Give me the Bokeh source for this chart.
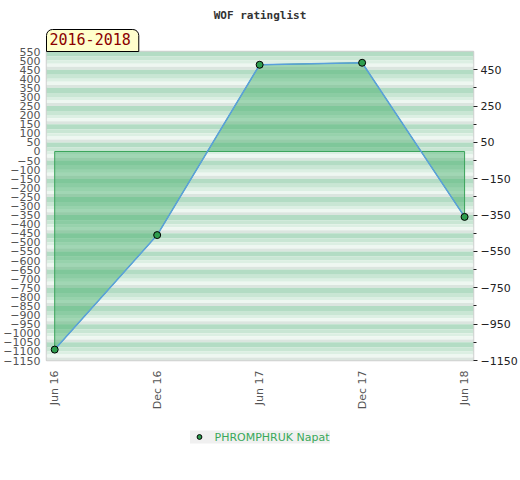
from math import pi
from bokeh.plotting import figure
from bokeh.layouts import column
from bokeh.models import (Range1d, LinearAxis, FixedTicker, Title, Legend,
                          LegendItem, ColumnDataSource)
from bokeh.embed import file_html
from bokeh.resources import INLINE

# ---- data ----
dates = ["Jun 16", "Dec 16", "Jun 17", "Dec 17", "Jun 18"]
ratings = [-1090, -460, 477, 488, -360]
player = "PHROMPHRUK Napat"
title_text = "WOF ratinglist"
period_text = "2016-2018"

left_ticks = list(range(-1150, 551, 50))
right_major = [450, 250, 50, -150, -350, -550, -750, -950, -1150]
right_minor = [350, 150, -50, -250, -450, -650, -850, -1050]
y_min, y_max = -1150, 550
stripe_period = 100
stripe_fracs = [0.0, 0.28, 0.50, 0.67, 0.84, 1.0]
stripe_colors = ["#b3dcc4", "#c9e6d4", "#dcefe3", "#eef7f1", "#dbe5df"]

x_idx = list(range(len(dates)))
x0, x1 = -0.08, 4.087

p = figure(width=520, height=420, x_range=Range1d(x0, x1), y_range=Range1d(y_min, y_max),
           output_backend="svg", toolbar_location=None, title=None,
           min_border_left=44, min_border_right=45, min_border_top=50, min_border_bottom=60)
p.grid.visible = False
p.background_fill_color = "white"
p.border_fill_color = "white"
p.outline_line_color = "#d0d0d0"
p.outline_line_width = 1.5

# ---- striped background ----
tops, bottoms, cols = [], [], []
v = y_max
while v > y_min:
    for i, c in enumerate(stripe_colors):
        tops.append(v - stripe_fracs[i] * stripe_period)
        bottoms.append(v - stripe_fracs[i + 1] * stripe_period)
        cols.append(c)
    v -= stripe_period
p.quad(left=x0, right=x1, top=tops, bottom=bottoms, fill_color=cols, line_color=None)

# ---- area fill between the series and zero ----
px = [x_idx[0]] + x_idx + [x_idx[-1]]
py = [0] + ratings + [0]
p.patch(px, py, fill_color="#38a95f", fill_alpha=0.42, line_color="#3aa35a", line_width=1)

src = ColumnDataSource(dict(x=x_idx, y=ratings))
p.line("x", "y", source=src, line_color="#5aa0dc", line_width=1.5)
marker_style = dict(size=7, marker="circle", fill_color="#2e9e4f",
                    line_color="black", line_width=1)
p.scatter("x", "y", source=src, **marker_style)

# ---- axes ----
xa = p.xaxis[0]
xa.ticker = FixedTicker(ticks=x_idx)
xa.major_label_overrides = {i: d for i, d in zip(x_idx, dates)}
xa.major_label_orientation = pi / 2
xa.major_tick_out = 0
xa.major_tick_in = 0
xa.minor_tick_out = 0
xa.minor_tick_in = 0
xa.axis_line_color = None
xa.major_label_text_font = "DejaVu Sans"
xa.major_label_text_font_size = "11px"
xa.major_label_text_color = "#555555"
xa.major_label_standoff = 10

ya = p.yaxis[0]
ya.ticker = FixedTicker(ticks=left_ticks)
ya.major_tick_out = 0
ya.major_tick_in = 0
ya.minor_tick_out = 0
ya.minor_tick_in = 0
ya.axis_line_color = None
ya.major_label_text_font = "DejaVu Sans"
ya.major_label_text_font_size = "11px"
ya.major_label_text_color = "#555555"
ya.major_label_standoff = 6

ra = LinearAxis(ticker=FixedTicker(ticks=right_major, minor_ticks=right_minor))
ra.major_tick_out = 4
ra.major_tick_in = 0
ra.minor_tick_out = 3
ra.minor_tick_in = 0
ra.major_tick_line_color = "#222222"
ra.minor_tick_line_color = "#222222"
ra.axis_line_color = None
ra.major_label_text_font = "DejaVu Sans"
ra.major_label_text_font_size = "11px"
ra.major_label_text_color = "#222222"
ra.major_label_standoff = 3
p.add_layout(ra, "right")

# ---- period box (nearest the frame) and title ----
p.add_layout(Title(text=period_text, align="left", offset=0, standoff=0,
                   text_font="DejaVu Sans Mono", text_font_size="15px",
                   text_font_style="normal", text_color="#8b0000",
                   background_fill_color="#ffffcc", border_line_color="black",
                   border_line_width=1, padding=(3, 8, 3, 7),
                   border_radius=(6, 6, 0, 0)), "above")
p.add_layout(Title(text=title_text, align="center", standoff=12,
                   text_font="DejaVu Sans Mono", text_font_style="bold",
                   text_font_size="11px", text_color="#333333"), "above")

# ---- legend in a small strip below ----
p2 = figure(width=520, height=33, x_range=Range1d(0, 1), y_range=Range1d(0, 1),
            output_backend="svg", toolbar_location=None, min_border=0)
p2.axis.visible = False
p2.grid.visible = False
p2.outline_line_color = None
p2.background_fill_color = "white"
p2.border_fill_color = "white"
lr = p2.scatter(x=[-10], y=[-10], **marker_style)
leg = Legend(items=[LegendItem(label=player, renderers=[lr])], location="center",
             label_text_font="DejaVu Sans", label_text_font_size="11px",
             label_text_color="#39a85a", background_fill_color="#f0f0f0",
             background_fill_alpha=1, border_line_color=None, padding=5, margin=0,
             glyph_width=18, glyph_height=12, label_height=12, label_standoff=7)
p2.add_layout(leg)

open("out.html", "w").write(file_html(column(p, p2), INLINE))
